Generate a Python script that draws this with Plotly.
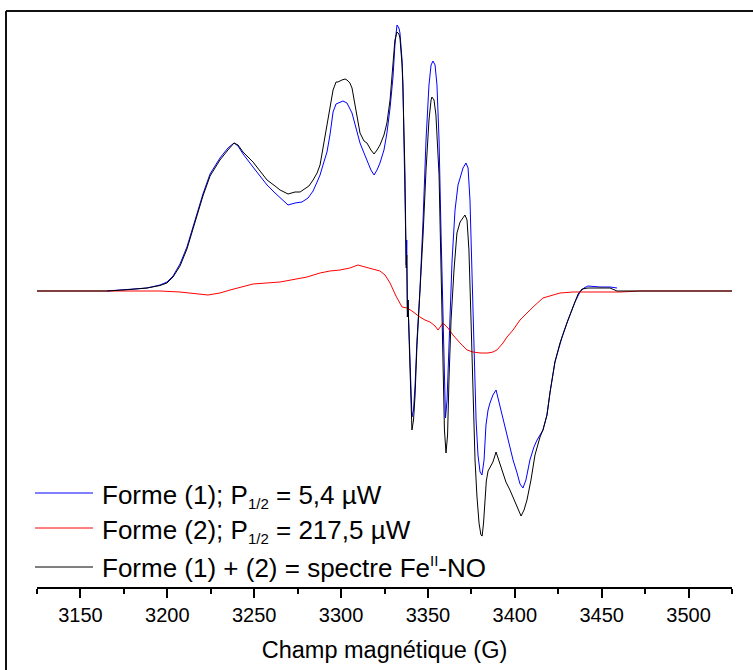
import plotly.graph_objects as go

# ---- data (field in G, intensity in arbitrary units) ----
field_1 = [3165.3, 3178.5, 3188.3, 3195.8, 3199.8, 3203.3, 3207.3, 3211.3, 3215.9, 3220.5,
           3224.6, 3230.3, 3234.9, 3238.4, 3240.7, 3243.6, 3249.3, 3253.3, 3257.4, 3262.0,
           3264.9, 3269.5, 3273.5, 3277.5, 3281.0, 3283.9, 3286.2, 3287.9, 3289.6, 3291.9,
           3293.6, 3295.4, 3297.1, 3298.2, 3301.1, 3303.4, 3305.1, 3306.3, 3308.6, 3310.9,
           3313.2, 3314.9, 3317.2, 3319.0, 3320.7, 3322.4, 3324.7, 3326.4, 3328.2, 3329.9,
           3331.0, 3332.2, 3333.3, 3333.9, 3335.1, 3335.6, 3336.8, 3337.5, 3337.8, 3338.2,
           3338.5, 3339.7, 3340.8, 3341.7, 3342.6, 3343.7, 3345.4, 3347.2, 3348.9, 3350.6,
           3351.8, 3352.9, 3354.1, 3355.2, 3356.4, 3357.5, 3358.7, 3359.5, 3360.1, 3361.0,
           3362.1, 3363.9, 3365.6, 3367.3, 3368.5, 3370.2, 3371.9, 3373.1, 3374.2, 3375.4,
           3376.5, 3377.7, 3378.8, 3380.0, 3381.1, 3382.3, 3383.4, 3384.6, 3385.7, 3387.4,
           3389.2, 3390.3, 3391.5, 3392.6, 3394.9, 3397.2, 3399.0, 3401.3, 3403.0, 3404.7,
           3406.4, 3408.7, 3411.0, 3412.8, 3414.5, 3416.2, 3418.5, 3420.3, 3423.1, 3427.2,
           3430.6, 3434.6, 3437.5, 3439.8, 3442.1, 3449.0, 3454.8, 3458.8]
forme_1 = [0, 1.5, 3, 6, 9, 15, 27, 44, 70, 97,
           117, 133, 143, 148, 145, 137, 124, 115, 106, 98,
           93, 86, 88, 89, 93, 100, 109, 116, 126, 139,
           156, 179, 187, 188, 190, 188, 183, 178, 163, 148,
           138, 131, 121, 116, 121, 128, 141, 158, 183, 214,
           246, 266, 263, 258, 231, 208, 111, 26, 51, -26,
           -9, -69, -126, -119, -94, -49, 1, 71, 151, 206,
           226, 230, 226, 206, 151, 61, -39, -109, -127, -109,
           -49, 31, 81, 106, 113, 123, 128, 123, 91, 21,
           -59, -129, -164, -181, -184, -169, -134, -119, -112, -104,
           -99, -107, -117, -122, -139, -157, -169, -182, -193, -197,
           -189, -169, -156, -149, -144, -139, -124, -101, -71, -46,
           -29, -11, -1, 3, 5, 4, 4, 3]

field_2 = [3125.0, 3195.8, 3207.3, 3215.9, 3223.4, 3230.3, 3236.1, 3249.3, 3264.9, 3280.4,
           3287.9, 3293.6, 3299.4, 3305.1, 3309.7, 3313.8, 3318.4, 3322.4, 3325.3, 3328.2,
           3331.6, 3335.1, 3338.0, 3340.8, 3345.4, 3348.3, 3351.2, 3354.1, 3355.8, 3358.7,
           3361.5, 3364.4, 3368.5, 3372.5, 3375.9, 3380.0, 3384.6, 3387.4, 3389.7, 3393.2,
           3395.5, 3399.0, 3403.0, 3407.0, 3410.5, 3416.2, 3420.3, 3426.0, 3433.5, 3460.5,
           3472.0, 3525.0]
forme_2 = [0, 0, -1, -2.5, -4, -2, 1, 7, 9, 14,
           18, 20, 21, 23, 26, 24, 22, 20, 16, 8,
           -5, -16, -17, -20, -26, -29, -31, -35, -39, -32,
           -37, -44, -52, -59, -61, -62, -62, -61, -59, -52,
           -46, -39, -29, -22, -16, -7, -5, -2, -1, -1,
           0, 0]

field_sum = [3125.0, 3165.3, 3178.5, 3188.3, 3195.8, 3199.8, 3203.3, 3207.3, 3211.3, 3215.9,
             3220.5, 3224.6, 3230.3, 3234.9, 3238.4, 3240.7, 3243.6, 3249.3, 3253.3, 3257.4,
             3262.0, 3264.9, 3269.5, 3273.5, 3276.4, 3279.2, 3281.5, 3283.9, 3286.2, 3287.9,
             3289.6, 3291.9, 3293.6, 3295.4, 3297.1, 3298.2, 3300.5, 3302.3, 3303.4, 3305.1,
             3306.3, 3308.6, 3310.9, 3313.2, 3314.9, 3317.2, 3319.0, 3320.7, 3322.4, 3324.7,
             3326.4, 3328.2, 3329.9, 3331.0, 3332.2, 3333.3, 3333.9, 3335.1, 3335.6, 3336.8,
             3337.5, 3337.8, 3338.2, 3338.5, 3339.7, 3340.8, 3341.7, 3342.6, 3343.7, 3345.4,
             3347.2, 3348.9, 3350.6, 3351.8, 3352.3, 3353.5, 3354.6, 3356.4, 3357.5, 3358.7,
             3359.5, 3360.4, 3361.3, 3362.1, 3363.3, 3365.0, 3366.7, 3368.5, 3370.2, 3371.3,
             3372.5, 3373.6, 3374.8, 3375.9, 3377.1, 3378.2, 3379.4, 3380.5, 3381.2, 3382.0,
             3382.8, 3383.6, 3384.6, 3385.7, 3387.4, 3389.2, 3390.3, 3392.6, 3394.9, 3397.2,
             3399.5, 3401.8, 3403.6, 3405.3, 3407.0, 3409.3, 3411.6, 3414.5, 3416.2, 3418.5,
             3420.3, 3423.1, 3426.0, 3430.0, 3433.5, 3436.4, 3438.7, 3442.1, 3449.0, 3454.8,
             3458.8, 3525.0]
forme_sum = [0, 0, 1.5, 3, 5.5, 8, 14, 25, 42, 68,
             95, 115, 131, 141, 148, 146, 139, 129, 120, 111,
             105, 101, 97, 99, 99, 102, 105, 111, 118, 126,
             144, 166, 186, 201, 209, 209, 211, 212, 211, 208,
             203, 181, 158, 150, 148, 141, 137, 141, 146, 156,
             168, 191, 228, 251, 259, 257, 253, 226, 203, 116,
             23, 36, -26, -9, -79, -139, -129, -104, -54, -4,
             56, 121, 171, 191, 194, 191, 176, 116, 31, -69,
             -139, -162, -144, -89, -29, 21, 58, 69, 74, 76,
             71, 41, -29, -109, -169, -205, -232, -244, -245, -232,
             -208, -190, -180, -176, -171, -161, -167, -179, -191, -199,
             -209, -219, -225, -219, -209, -189, -164, -146, -139, -124,
             -101, -71, -52, -32, -16, -3, 2, 3, 3, 3,
             0, 0]

x_ticks = [3150, 3200, 3250, 3300, 3350, 3400, 3450, 3500]
x_minor = [3125, 3175, 3225, 3275, 3325, 3375, 3425, 3475, 3525]
x_range = [3125, 3525]
y_range = [-296, 280]

SUB = '<sub><span style="font-size:15px">1/2</span></sub>'
SUP = '<sup><span style="font-size:15px">II</span></sup>'
labels = ["Forme (1); P" + SUB + " = 5,4 µW",
          "Forme (2); P" + SUB + " = 217,5 µW",
          "Forme (1) + (2) = spectre Fe" + SUP + "-NO"]
colors = ["#0000FF", "#FF0000", "#000000"]

W, H = 753, 670
FONT = "Arial, Liberation Sans, sans-serif"

fig = go.Figure()
fig.add_trace(go.Scatter(x=field_1, y=forme_1, mode="lines", name=labels[0],
                         line=dict(color=colors[0], width=1)))
fig.add_trace(go.Scatter(x=field_2, y=forme_2, mode="lines", name=labels[1],
                         line=dict(color=colors[1], width=1)))
fig.add_trace(go.Scatter(x=field_sum, y=forme_sum, mode="lines", name=labels[2],
                         line=dict(color=colors[2], width=1)))

shapes = [
    # outer frame (top & left)
    dict(type="line", xref="paper", yref="paper", x0=6 / W, x1=1.01, y0=1 - 11 / H, y1=1 - 11 / H,
         line=dict(color="#111111", width=2)),
    dict(type="line", xref="paper", yref="paper", x0=6 / W, x1=6 / W, y0=1 - 11 / H, y1=-0.01,
         line=dict(color="#111111", width=2)),
]
annotations = []
leg_line_y = [493, 528, 567]
leg_text_y = [496, 531, 567]
for lab, col, ly, ty in zip(labels, colors, leg_line_y, leg_text_y):
    shapes.append(dict(type="line", xref="paper", yref="paper", x0=35 / W, x1=93 / W,
                       y0=1 - ly / H, y1=1 - ly / H, line=dict(color=col, width=1)))
    annotations.append(dict(xref="paper", yref="paper", x=100 / W, y=1 - ty / H,
                            xanchor="left", yanchor="middle", text=lab, showarrow=False,
                            font=dict(family=FONT, size=26, color="black")))

fig.update_layout(
    width=W, height=H,
    margin=dict(l=0, r=0, t=0, b=0),
    paper_bgcolor="white", plot_bgcolor="white",
    showlegend=False,
    shapes=shapes, annotations=annotations,
    font=dict(family=FONT, color="black"),
    xaxis=dict(domain=[37 / W, 732 / W], range=x_range, tickvals=x_ticks,
               showgrid=False, zeroline=False, showline=True, linecolor="black", linewidth=2,
               ticks="outside", ticklen=9, tickwidth=2, tickcolor="black",
               tickfont=dict(family=FONT, size=20),
               minor=dict(tickvals=x_minor, ticks="outside", ticklen=5, tickwidth=2,
                          tickcolor="black"),
               title=dict(text="Champ magnétique (G)", font=dict(family=FONT, size=23.5),
                          standoff=17)),
    yaxis=dict(domain=[1 - 587 / H, 1 - 11 / H], range=y_range, visible=False),
)

fig.write_html("out.html", config={"displayModeBar": False},
               post_script="document.body.style.margin='0px';")
